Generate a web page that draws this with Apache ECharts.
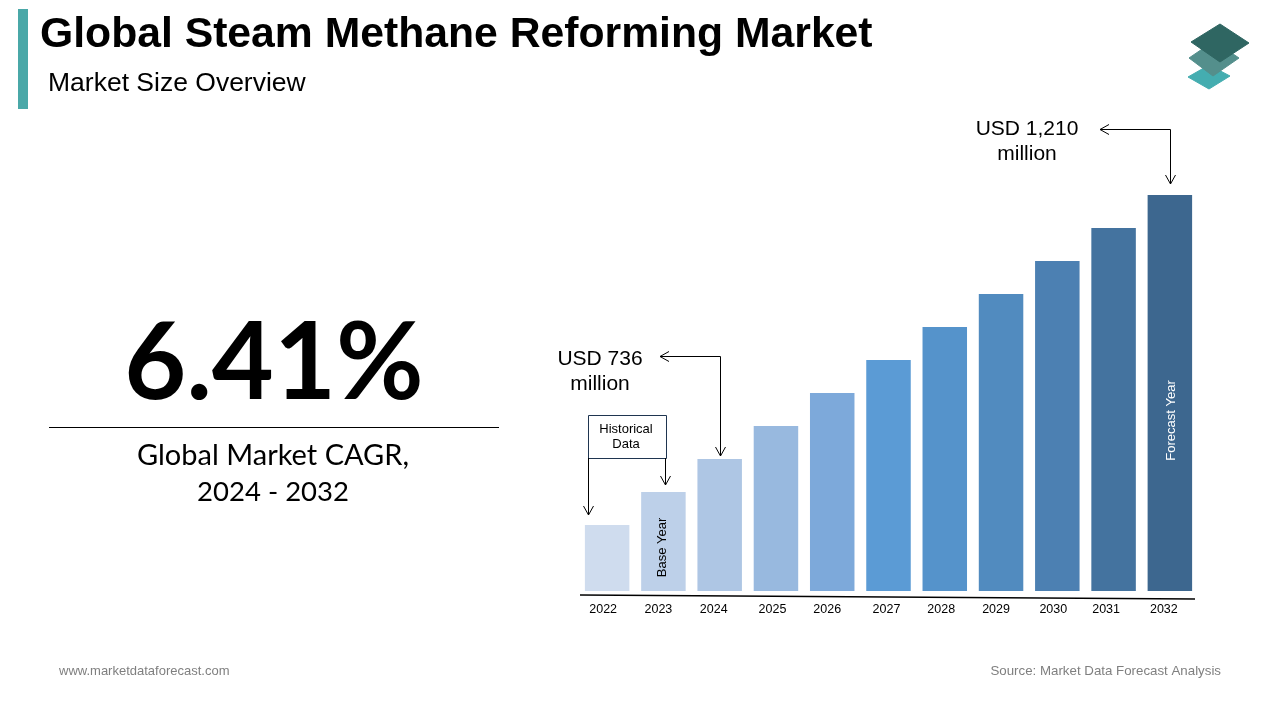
<!DOCTYPE html>
<html style="height: 100%">
<head>
    <meta charset="utf-8">
</head>
<body style="height: 100%; margin: 0; background: #fff">
<div id="container" style="width: 1280px; height: 720px"></div>
<script type="text/javascript" src="https://cdn.jsdelivr.net/npm/echarts@6/dist/echarts.min.js"></script>
<script type="text/javascript">
  const years = ['2022', '2023', '2024', '2025', '2026', '2027', '2028', '2029', '2030', '2031', '2032'];
  // the bars are schematic, not to scale with the USD figures: relative heights
  const barHeights = [66, 99, 132, 165, 198, 231, 264, 297, 330, 363, 396];
  const barColors = ['#cfdcee', '#bdd0e9', '#aec6e4', '#98b9df', '#7da9da', '#5b9bd5', '#5593cb', '#518bbf', '#4c80b2', '#44739f', '#3d678f'];
  // the year labels sit a little left of their bars, each by a different amount
  const labelShift = [4, 5, 6, 3.5, 5, 2, 3.5, 5, 4, 7.5, 6];

  const sans = '"Liberation Sans", Arial, sans-serif';
  const round = 'Lato, sans-serif';

  function text (x, y, str, size, opts) {
    return {
      type: 'text',
      x: x,
      y: y,
      style: Object.assign({
        text: str,
        fontSize: size,
        fontFamily: sans,
        fill: '#000',
        align: 'center',
        verticalAlign: 'middle'
      }, opts || {})
    };
  }
  function line (points, color) {
    return {
      type: 'polyline',
      shape: { points: points },
      style: { stroke: color || '#000', lineWidth: 1, fill: null }
    };
  }
  // open "v" arrow head at x,y pointing left or down
  function head (x, y, dir) {
    return dir === 'left'
      ? line([[x + 9, y - 5], [x, y], [x + 9, y + 5]])
      : line([[x - 5, y - 9], [x, y], [x + 5, y - 9]]);
  }
  function diamond (points, color) {
    return {
      type: 'polygon',
      shape: { points: points },
      style: { fill: color, stroke: color, lineWidth: 1, lineJoin: 'round' }
    };
  }

  const graphics = [
    // header
    { type: 'rect', shape: { x: 18, y: 9, width: 10, height: 100 }, style: { fill: '#4aa8a8' } },
    text(40, 35, 'Global Steam Methane Reforming Market', 42.7, { align: 'left', fontWeight: 'bold' }),
    text(48, 84, 'Market Size Overview', 26.5, { align: 'left' }),

    // logo
    diamond([[1188, 77], [1209, 65], [1230, 76], [1209, 89]], '#44adb0'),
    diamond([[1189, 58], [1214, 41], [1239, 58], [1213, 76]], '#548f8c'),
    diamond([[1191, 42], [1220, 24], [1249, 43], [1220, 62]], '#2f6662'),

    // CAGR block
    text(274, 364, '6.41%', 107, { fontFamily: round, fontWeight: 'bold' }),
    line([[49, 427.5], [499, 427.5]]),
    text(273, 456, 'Global Market CAGR,', 29, { fontFamily: round }),
    text(273, 492, '2024 - 2032', 27.5, { fontFamily: round }),

    // annotations
    text(1027, 129, 'USD 1,210', 21),
    text(1027, 154, 'million', 21),
    line([[1100, 129.5], [1170.5, 129.5], [1170.5, 184]]),
    head(1100, 129.5, 'left'),
    head(1170.5, 184, 'down'),

    text(600, 359, 'USD 736', 21),
    text(600, 384, 'million', 21),
    line([[660, 356.5], [720.5, 356.5], [720.5, 456]]),
    head(660, 356.5, 'left'),
    head(720.5, 456, 'down'),

    { type: 'rect', shape: { x: 588.5, y: 415.5, width: 78, height: 43 }, style: { fill: '#fff', stroke: '#1f3550', lineWidth: 1 } },
    text(626, 429, 'Historical', 13),
    text(626, 444, 'Data', 13),
    line([[588.5, 458], [588.5, 515]]),
    head(588.5, 515, 'down'),
    line([[665.5, 458], [665.5, 485]]),
    head(665.5, 485, 'down'),

    // baseline is slightly tilted in the original
    { type: 'line', shape: { x1: 580, y1: 595, x2: 1195, y2: 599 }, style: { stroke: '#000', lineWidth: 1.5 } },

    // footer
    text(59, 671, 'www.marketdataforecast.com', 13, { align: 'left', fill: '#7f7f7f' }),
    text(1221, 671, 'Source: Market Data Forecast Analysis', 13.3, { align: 'right', fill: '#7f7f7f' })
  ];

  const barData = barHeights.map(function (v, i) {
    const item = { value: v, itemStyle: { color: barColors[i] } };
    // offset of a rotated label is in its own rotated frame
    if (years[i] === '2023') {
      item.label = { show: true, formatter: 'Base Year', rotate: 90, position: 'inside', offset: [-6, -1], color: '#000', fontSize: 13, fontFamily: sans };
    }
    if (years[i] === '2032') {
      item.label = { show: true, formatter: 'Forecast Year', rotate: 90, position: 'inside', offset: [-27.5, 2], color: '#fff', fontSize: 13, fontFamily: sans };
    }
    return item;
  });

  var dom = document.getElementById('container');
  var myChart = echarts.init(dom, null, { renderer: 'canvas' });
  var option = {
    animation: false,
    backgroundColor: '#fff',
    grid: { left: 579, top: 195, width: 619, height: 396 },
    xAxis: {
      type: 'category',
      data: years.map(function (y, i) {
        return { value: y, textStyle: { padding: [0, labelShift[i] * 2, 0, 0] } };
      }),
      axisLine: { show: false },
      axisTick: { show: false },
      axisLabel: { color: '#000', fontSize: 12.5, fontFamily: sans, margin: 12, interval: 0 }
    },
    yAxis: {
      type: 'value',
      min: 0,
      max: 396,
      show: false
    },
    series: [
      {
        type: 'bar',
        data: barData,
        barWidth: 44.5
      }
    ],
    graphic: graphics
  };
  myChart.setOption(option);
</script>
</body>
</html>
